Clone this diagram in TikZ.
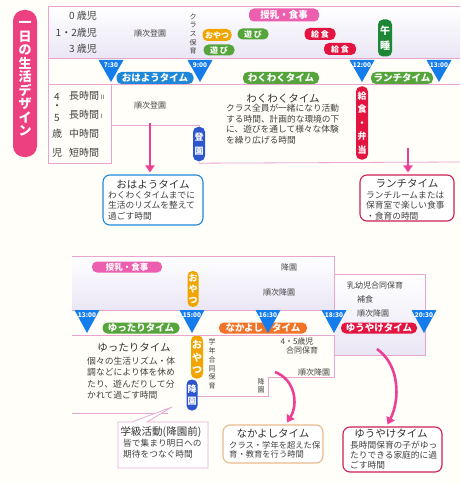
\documentclass[tikz,border=0pt]{standalone}
\usepackage{fontspec}
\setmainfont{Noto Sans CJK JP}
\usepackage{xcolor}
\usepackage{tikz}
\usetikzlibrary{arrows.meta,calc}

\definecolor{bgcream}{RGB}{255,254,248}
\definecolor{linepink}{RGB}{232,165,205}
\definecolor{barpink}{RGB}{236,64,128}
\definecolor{arrowpink}{RGB}{236,64,150}
\definecolor{triblue}{RGB}{20,125,235}
\definecolor{ohablue}{RGB}{30,135,215}
\definecolor{grn}{RGB}{85,165,60}
\definecolor{dkgrn}{RGB}{30,135,55}
\definecolor{orng}{RGB}{240,165,0}
\definecolor{nkorng}{RGB}{240,115,40}
\definecolor{rd}{RGB}{228,20,65}
\definecolor{milkpink}{RGB}{236,95,175}
\definecolor{kblue}{RGB}{45,85,205}
\definecolor{lav}{RGB}{234,230,245}
\definecolor{txt}{RGB}{65,65,65}
\definecolor{lunchred}{RGB}{205,30,85}
\definecolor{nktan}{RGB}{232,185,140}
\definecolor{calpink}{RGB}{230,175,215}

\tikzset{
  pill/.style={fill=#1, text=white, rounded corners=5pt, inner sep=0pt,
    font=\bfseries\fontsize{9.5}{9.5}\selectfont},
  vpill/.style={fill=#1, text=white, rounded corners=5pt, inner sep=0pt, align=center},
  timelbl/.style={text=white, inner sep=0pt, font=\bfseries\fontsize{6.5}{6.5}\selectfont},
  agetxt/.style={text=txt, inner sep=0pt, font=\fontsize{10}{10}\selectfont},
  small/.style={text=txt, inner sep=0pt, font=\fontsize{8}{8}\selectfont},
  ttl/.style={text=txt!80!black, inner sep=0pt, font=\fontsize{10.5}{12}\selectfont},
  bdy/.style={text=txt, inner sep=0pt, align=left, font=\fontsize{8.7}{10.6}\selectfont},
  infobox/.style={draw=#1, line width=1.1pt, rounded corners=7pt, fill=white, inner sep=0pt},
  pinkline/.style={draw=linepink, line width=0.8pt},
  bigarrow/.style={draw=arrowpink, line width=2.6pt, -{Triangle[width=9pt,length=7pt]}},
}

\begin{document}
\begin{tikzpicture}[x=1pt,y=-1pt]
  % canvas
  \fill[bgcream] (0,0) rectangle (460,484);
  \useasboundingbox (0,0) rectangle (460,484);

  % shaded rows
  \shade[top color=white, bottom color=lav] (48,6) rectangle (460,58);
  \shade[top color=white, bottom color=lav] (72,256) rectangle (334,310);
  \shade[top color=white, bottom color=lav] (334,274) rectangle (425,355);

  % title bar
  \fill[barpink, rounded corners=11pt] (13,10) rectangle (37,157);
  \node[text=white, align=center, inner sep=0pt, font=\bfseries\fontsize{13}{13.5}\selectfont]
    (title) at (25,79) {一\\日\\の\\生\\活\\デ\\ザ\\イ\\ン};

  % frame lines (top)
  \draw[pinkline] (48,6) -- (460,6);
  \draw[pinkline] (48,6) -- (48,163) -- (111,163) -- (111,84);
  \draw[pinkline] (48,58) -- (460,58);
  \draw[pinkline] (48,84) -- (460,84);

  % 0-3 years
  \node[agetxt, anchor=east] (age0) at (97,16) {0 歳児};
  \node[agetxt, anchor=east] (age12) at (97,33) {1・2歳児};
  \node[agetxt, anchor=east] (age3) at (97,49) {3 歳児};
  \node[small] (junjiA) at (150,33) {順次登園};
  \node[text=txt, inner sep=0pt, align=center, font=\fontsize{7}{8.6}\selectfont]
    (classA) at (193,34) {ク\\ラ\\ス\\保\\育};

  \node[pill=milkpink, minimum width=70pt, minimum height=13pt] (milkA) at (284,15) {授乳・食事};
  \node[pill=orng, minimum width=29pt, minimum height=12pt, font=\bfseries\fontsize{8}{8}\selectfont] (oyatsuA) at (217,35) {おやつ};
  \node[pill=grn, minimum width=31pt, minimum height=11pt, font=\bfseries\fontsize{8}{8}\selectfont] (asobiA) at (253,34) {遊\ び};
  \node[pill=grn, minimum width=31pt, minimum height=11pt, font=\bfseries\fontsize{8}{8}\selectfont] (asobiB) at (219,50) {遊\ び};
  \node[pill=rd, minimum width=31pt, minimum height=12pt, font=\bfseries\fontsize{8}{8}\selectfont] (lunchA) at (320,34) {給\ 食};
  \node[pill=rd, minimum width=32pt, minimum height=12pt, font=\bfseries\fontsize{8}{8}\selectfont] (lunchB) at (340,49) {給\ 食};
  \node[vpill=dkgrn, minimum width=14pt, minimum height=37pt, font=\bfseries\fontsize{10}{15}\selectfont] (nap) at (385,38) {午\\睡};

  % time band (top)
  \node[pill=ohablue, minimum width=77pt, minimum height=12pt] (ohayoP) at (155,78) {おはようタイム};
  \node[pill=grn, minimum width=76pt, minimum height=12pt] (wakuP) at (281,78) {わくわくタイム};
  \node[pill=grn, minimum width=62pt, minimum height=12pt] (lunchP) at (402,78) {ランチタイム};
  \foreach \x/\t in {111/7:30, 200/9:00, 362/12:00, 439/13:00} {
    \fill[triblue] (\x-12.5,60) -- (\x+12.5,60) -- (\x,82) -- cycle;
    \node[timelbl] (tm\x) at (\x,65.5) {\t};
  }

  % 4-5 years
  \foreach \c/\y in {4/97, ・/107, 5/118, 歳/134, 児/153}
    \node[agetxt] (k\y) at (57,\y) {\c};
  \node[agetxt, anchor=west] (long2) at (69,96) {長時間\,{\fontsize{6}{6}\selectfont II}};
  \node[agetxt, anchor=west] (long1) at (69,115) {長時間\,{\fontsize{6}{6}\selectfont I}};
  \node[agetxt, anchor=west] (mid) at (69,134) {中時間};
  \node[agetxt, anchor=west] (short) at (69,153) {短時間};
  \node[small] (junjiB) at (150,105) {順次登園};

  \node[vpill=kblue, minimum width=12pt, minimum height=34pt, font=\bfseries\fontsize{9}{14}\selectfont] (tokoen) at (199,144) {登\\園};
  \draw[pinkline] (111,125) -- (199,125) -- (tokoen.north);
  \draw[pinkline] (tokoen.south) -- ++(0,2) -- (460,162);
  \node[vpill=rd, minimum width=12pt, minimum height=73pt, font=\bfseries\fontsize{9}{13.5}\selectfont] (bento) at (362,123) {給\\食\\・\\弁\\当};

  \node[ttl] (wakuT) at (283,99) {わくわくタイム};
  \node[bdy, anchor=north west] (wakuB) at (226,104) {クラス全員が一緒になり活動\\する時間、計画的な環境の下\\に、遊びを通して様々な体験\\を繰り広げる時間};

  % upper boxes
  \node[infobox=ohablue, minimum width=100pt, minimum height=50pt] (ohayo) at (153,200) {};
  \node[ttl] (ohayoT) at (153,184) {おはようタイム};
  \node[bdy, anchor=north west] (ohayoB) at (108,191) {わくわくタイムまでに\\生活のリズムを整えて\\過ごす時間};
  \node[infobox=lunchred, minimum width=94pt, minimum height=46pt] (lunch) at (407,198) {};
  \node[ttl] (lunchT) at (407,183) {ランチタイム};
  \node[bdy, anchor=north west] (lunchB) at (366,191) {ランチルームまたは\\保育室で楽しい食事\\・食育の時間};

  \coordinate (ohaS) at (150,123);
  \draw[bigarrow, shorten >=2pt] (ohaS) -- (ohaS |- ohayo.north);
  \coordinate (lunchS) at (408,148);
  \draw[bigarrow, shorten >=2pt] (lunchS) -- (lunchS |- lunch.north);

  % frame lines (bottom)
  \draw[pinkline] (72,256) -- (334,256) -- (334,274) -- (425,274) -- (425,355) -- (334,355);
  \draw[pinkline] (334,274) -- (334,310);
  \draw[pinkline] (72,310) -- (334,310);
  \draw[pinkline] (72,413) -- (168,413);

  % afternoon upper row
  \node[pill=milkpink, minimum width=70pt, minimum height=11pt, font=\bfseries\fontsize{8.5}{8.5}\selectfont] (milkB) at (127,267) {授乳・食事};
  \node[vpill=orng, minimum width=11pt, minimum height=36pt, font=\bfseries\fontsize{9}{11}\selectfont] (oyatsuB) at (193,289) {お\\や\\つ};
  \node[small] (koenA) at (289,267) {降園};
  \node[small] (junjiC) at (279,292) {順次降園};
  \node[small, anchor=west] (nyuyo) at (347,285) {乳幼児合同保育};
  \node[small, anchor=west] (hoshoku) at (357,299) {補食};
  \node[small, anchor=west] (junjiD) at (357,313) {順次降園};

  % time band (bottom)
  \node[pill=grn, minimum width=77pt, minimum height=11pt] (yuttaP) at (141,328) {ゆったりタイム};
  \node[pill=nkorng, minimum width=88pt, minimum height=11pt] (nakaP) at (263,328) {なかよし\hspace{9pt}タイム};
  \node[pill=rd, minimum width=76pt, minimum height=11pt] (yuyaP) at (379,328) {ゆうやけタイム};
  \foreach \x/\t in {87/13:00, 192/15:00, 268/16:30, 334/18:30, 424/20:30} {
    \fill[triblue] (\x-12.5,310) -- (\x+12.5,310) -- (\x,333) -- cycle;
    \node[timelbl] (tm\x) at (\x,315.5) {\t};
  }

  % afternoon lower row
  \node[vpill=orng, minimum width=12pt, minimum height=43pt, font=\bfseries\fontsize{10}{12.5}\selectfont] (oyatsuC) at (197,357) {お\\や\\つ};
  \node[vpill=kblue, minimum width=11pt, minimum height=31pt, font=\bfseries\fontsize{9}{12}\selectfont] (koen) at (192,395) {降\\園};
  \node[text=txt, inner sep=0pt, align=center, font=\fontsize{7}{8.7}\selectfont]
    (gakunen) at (212,364) {学\\年\\合\\同\\保\\育};
  \node[small] (age45) at (297,341) {4・5歳児};
  \node[small] (godo) at (302,350) {合同保育};
  \node[small] (junjiE) at (314,372) {順次降園};
  \node[text=txt, inner sep=0pt, align=center, font=\fontsize{7}{8}\selectfont] (koenB) at (261,386) {降\\園};
  \draw[pinkline] (72,335) -- (334,335) -- (334,377) -- (268,377) -- (268,396) -- (koen.east |- 0,396);

  \node[ttl] (yuttaT) at (134,348) {ゆったりタイム};
  \node[bdy, anchor=north west, font=\fontsize{8.8}{11.3}\selectfont] (yuttaB) at (87,357) {個々の生活リズム・体\\調などにより体を休め\\たり、遊んだりして分\\かれて過ごす時間};

  % lower boxes
  \draw[draw=calpink, line width=0.8pt, fill=white] (118,422) -- (132,422) -- (172,407) -- (147,422) -- (208,422) -- (208,468) -- (118,468) -- cycle;
  \node[ttl] (gakkyuT) at (161,432) {学級活動(降園前)};
  \node[bdy, anchor=north west] (gakkyuB) at (123,439) {皆で集まり明日への\\期待をつなぐ時間};

  \node[infobox=nktan, minimum width=100pt, minimum height=38pt] (naka) at (273,444) {};
  \node[ttl] (nakaT) at (273,433) {なかよしタイム};
  \node[bdy, anchor=north west, font=\fontsize{8.3}{9}\selectfont] (nakaB) at (229,441) {クラス・学年を超えた保\\育・教育を行う時間};

  \node[infobox=lunchred, minimum width=99pt, minimum height=45pt] (yuyake) at (392.5,449.5) {};
  \node[ttl] (yuyakeT) at (391,434) {ゆうやけタイム};
  \node[bdy, anchor=north west, font=\fontsize{8.7}{10}\selectfont] (yuyakeB) at (350,441) {長時間保育の子がゆっ\\たりできる家庭的に過\\ごす時間};

  \coordinate (nakaS) at (275,372);
  \draw[bigarrow] (nakaS) .. controls (296,380) and (298,405) .. ($(naka.north)+(14,-2)$);
  \coordinate (yuyaS) at (377,349);
  \draw[bigarrow] (yuyaS) .. controls (400,365) and (400,400) .. ($(yuyake.north)+(-5,-2)$);
\end{tikzpicture}
\end{document}
